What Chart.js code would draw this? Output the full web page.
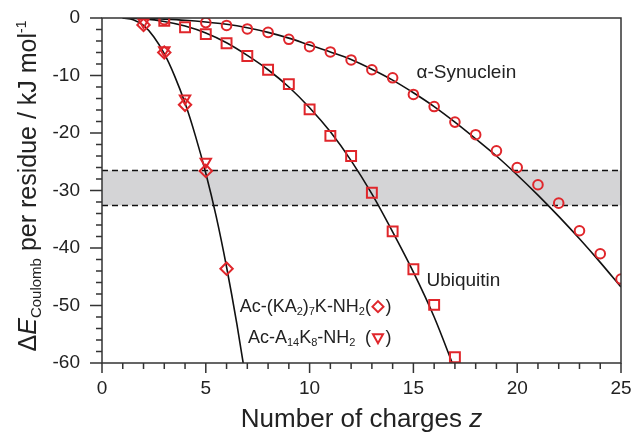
<!DOCTYPE html>
<html>
<head>
<meta charset="utf-8">
<script src="https://cdn.jsdelivr.net/npm/chart.js@4/dist/chart.umd.min.js"></script>
<style>
  body { margin: 0; background: #fff; }
  #wrap { width: 631px; height: 433px; }
</style>
</head>
<body>
<div id="wrap"><canvas id="coulomb"></canvas></div>
<script>
// tick values
var xTickValues = [0, 5, 10, 15, 20, 25];
var yTickValues = [0, -10, -20, -30, -40, -50, -60];

// alpha-synuclein (circles)
var synZ = [3, 5, 6, 7, 8, 9, 10, 11, 12, 13, 14, 15, 16, 17, 18, 19, 20, 21, 22, 23, 24, 25];
var synE = [-0.3, -0.8, -1.3, -1.9, -2.5, -3.7, -5.0, -5.9, -7.3, -9.0, -10.4, -13.3, -15.4, -18.1, -20.3, -23.1, -26.0, -29.0, -32.2, -37.0, -41.0, -45.4];

// ubiquitin (squares)
var ubiZ = [3, 4, 5, 6, 7, 8, 9, 10, 11, 12, 13, 14, 15, 16, 17];
var ubiE = [-0.5, -1.6, -2.8, -4.4, -6.6, -9.0, -11.5, -15.9, -20.5, -24.0, -30.4, -37.1, -43.7, -49.9, -59.0];

// Ac-(KA2)7K-NH2 (diamonds) and Ac-A14K8-NH2 (triangles)
var kaZ = [2, 3, 4, 5, 6];
var kaE = [-1.2, -6.0, -15.1, -26.6, -43.6];
var a14Z = [2, 3, 4, 5];
var a14E = [-0.7, -5.6, -14.0, -25.0];

// model curves
var synLineZ = [1, 2, 3, 4, 5, 6, 7, 8, 9, 10, 11, 12, 13, 14, 15, 16, 17, 18, 19, 20, 21, 22, 23, 24, 25];
var synLineE = [0, -0.05, -0.2, -0.4, -0.7, -1.1, -1.7, -2.5, -3.5, -4.7, -5.9, -7.2, -8.9, -10.8, -13.0, -15.4, -18.1, -21.0, -24.0, -27.3, -30.8, -34.5, -38.4, -42.5, -46.8];
var ubiLineZ = [1, 2, 3, 4, 5, 6, 7, 8, 9, 10, 11, 12, 13, 14, 15, 16, 17];
var ubiLineE = [0, -0.15, -0.6, -1.4, -2.6, -4.3, -6.5, -9.0, -12.0, -15.6, -19.8, -24.8, -30.6, -37.2, -44.2, -52.0, -61.2];
var kaLineZ = [1, 1.5, 2, 2.5, 3, 3.5, 4, 4.5, 5, 5.5, 6, 6.5, 7];
var kaLineE = [0, -0.3, -1.3, -3.3, -6.2, -10.1, -14.8, -20.5, -27.0, -34.5, -43.3, -53.3, -64.5];

// grey band limits
var bandTop = -26.5;
var bandBottom = -32.6;

var RED = "#e0262b";
var INK = "#222";
var FONT = "'Liberation Sans', Arial, sans-serif";

function pts(xs, ys) {
    return xs.map(function (x, i) { return { x: x, y: ys[i] }; });
}

function lineSet(xs, ys) {
    return {
        data: pts(xs, ys),
        showLine: true,
        borderColor: "#111",
        borderWidth: 1.6,
        pointRadius: 0,
        cubicInterpolationMode: "monotone",
        clip: 0,
        order: 5
    };
}

function markerSet(xs, ys, style, r, rot) {
    return {
        data: pts(xs, ys),
        showLine: false,
        pointStyle: style,
        pointRadius: r,
        pointRotation: rot || 0,
        pointBorderColor: RED,
        pointBackgroundColor: "rgba(0,0,0,0)",
        pointBorderWidth: 2,
        clip: 0,
        order: 1
    };
}

// draws grey band, frame, tick marks, titles and in-plot labels
var decor = {
    id: "decor",
    beforeDatasetsDraw: function (chart) {
        var ctx = chart.ctx, a = chart.chartArea, ys = chart.scales.y;
        var y1 = ys.getPixelForValue(bandTop), y2 = ys.getPixelForValue(bandBottom);
        ctx.save();
        ctx.fillStyle = "#d4d4d6";
        ctx.fillRect(a.left, y1, a.right - a.left, y2 - y1);
        ctx.strokeStyle = "#111";
        ctx.lineWidth = 1.5;
        ctx.setLineDash([6, 4]);
        ctx.beginPath();
        ctx.moveTo(a.left, y1); ctx.lineTo(a.right, y1);
        ctx.moveTo(a.left, y2); ctx.lineTo(a.right, y2);
        ctx.stroke();
        ctx.restore();
    },
    afterDraw: function (chart) {
        var ctx = chart.ctx, a = chart.chartArea;
        var xs = chart.scales.x, ys = chart.scales.y;
        ctx.save();
        ctx.strokeStyle = "#333";
        ctx.lineWidth = 1.5;
        ctx.strokeRect(a.left, a.top, a.right - a.left, a.bottom - a.top);

        // tick marks
        ctx.beginPath();
        var v, p, len;
        for (v = 0; v <= 25; v++) {
            p = xs.getPixelForValue(v);
            len = v % 5 === 0 ? 10 : 6;
            ctx.moveTo(p, a.bottom); ctx.lineTo(p, a.bottom + len);
        }
        for (v = 0; v >= -60; v -= 2) {
            p = ys.getPixelForValue(v);
            len = v % 10 === 0 ? 12 : 6;
            ctx.moveTo(a.left, p); ctx.lineTo(a.left - len, p);
        }
        ctx.stroke();

        ctx.fillStyle = INK;
        ctx.textBaseline = "alphabetic";
        ctx.textAlign = "left";

        // x title
        var t1 = "Number of charges ";
        ctx.font = "italic 26px " + FONT;
        var wz = ctx.measureText("z").width;
        ctx.font = "26px " + FONT;
        var w1 = ctx.measureText(t1).width;
        var sx = (a.left + a.right) / 2 - (w1 + wz) / 2;
        ctx.fillText(t1, sx, 427);
        ctx.font = "italic 26px " + FONT;
        ctx.fillText("z", sx + w1, 427);

        // y title, rotated
        var segs = [
            { t: "\u0394", f: "25px " + FONT, dy: 0 },
            { t: "E", f: "italic 25px " + FONT, dy: 0 },
            { t: "Coulomb", f: "15px " + FONT, dy: 5 },
            { t: " per residue / kJ mol", f: "25px " + FONT, dy: 0 },
            { t: "-1", f: "14px " + FONT, dy: -10 }
        ];
        var total = 0;
        segs.forEach(function (s) { ctx.font = s.f; s.w = ctx.measureText(s.t).width; total += s.w; });
        ctx.translate(36, 186);
        ctx.rotate(-Math.PI / 2);
        var px = -total / 2;
        segs.forEach(function (s) {
            ctx.font = s.f;
            ctx.fillText(s.t, px, s.dy);
            px += s.w;
        });
        ctx.setTransform(1, 0, 0, 1, 0, 0);

        // in-plot labels
        ctx.font = "19px " + FONT;
        ctx.textBaseline = "middle";
        ctx.fillText("\u03b1-Synuclein", xs.getPixelForValue(15.15), ys.getPixelForValue(-9.6));
        ctx.fillText("Ubiquitin", xs.getPixelForValue(15.63), ys.getPixelForValue(-45.7));

        function rich(parts, x, y) {
            parts.forEach(function (s) {
                ctx.font = (s.sub ? "11px " : "18px ") + FONT;
                ctx.fillText(s.t, x, y + (s.sub ? 5 : 0));
                x += ctx.measureText(s.t).width;
            });
            return x;
        }
        var ky = ys.getPixelForValue(-50.2);
        var kx = rich([{ t: "Ac-(KA" }, { t: "2", sub: 1 }, { t: ")" }, { t: "7", sub: 1 },
                       { t: "K-NH" }, { t: "2", sub: 1 }], xs.getPixelForValue(6.63), ky);
        ctx.font = "18px " + FONT;
        var wp = ctx.measureText("(").width;
        ctx.fillText("(", kx, ky);
        var mx = kx + wp + 7;
        ctx.fillText(")", mx + 7.5, ky);

        var ay = ys.getPixelForValue(-55.7);
        rich([{ t: "Ac-A" }, { t: "14", sub: 1 }, { t: "K" }, { t: "8", sub: 1 },
              { t: "-NH" }, { t: "2", sub: 1 }], xs.getPixelForValue(7.03), ay);
        ctx.font = "18px " + FONT;
        ctx.fillText("(", kx, ay);
        ctx.fillText(")", mx + 7.5, ay);

        ctx.strokeStyle = RED;
        ctx.lineWidth = 2;
        ctx.beginPath();
        ctx.moveTo(mx, ky - 5.5); ctx.lineTo(mx + 5.5, ky); ctx.lineTo(mx, ky + 5.5); ctx.lineTo(mx - 5.5, ky); ctx.closePath();
        ctx.moveTo(mx - 5, ay - 4); ctx.lineTo(mx + 5, ay - 4); ctx.lineTo(mx, ay + 5); ctx.closePath();
        ctx.stroke();
        ctx.restore();
    }
};

document.addEventListener("DOMContentLoaded", function () {
    var ctx = document.getElementById("coulomb").getContext("2d");

    var data = {
        datasets: [
            lineSet(synLineZ, synLineE),
            lineSet(ubiLineZ, ubiLineE),
            lineSet(kaLineZ, kaLineE),
            markerSet(synZ, synE, "circle", 4.8),
            markerSet(ubiZ, ubiE, "rect", 7),
            markerSet(kaZ, kaE, "rectRot", 6.2),
            markerSet(a14Z, a14E, "triangle", 6, 180)
        ]
    };

    var options = {
        responsive: false,
        animation: false,
        layout: { padding: { top: 18, right: 10, left: 0, bottom: 0 } },
        scales: {
            x: {
                type: "linear",
                min: 0,
                max: 25,
                afterBuildTicks: function (s) { s.ticks = xTickValues.map(function (v) { return { value: v }; }); },
                afterFit: function (s) { s.height = 70; s.paddingLeft = 0; s.paddingRight = 0; },
                grid: { display: false, drawTicks: false },
                border: { display: false },
                ticks: { padding: 14, color: INK, font: { family: FONT, size: 19 } }
            },
            y: {
                type: "linear",
                min: -60,
                max: 0,
                afterBuildTicks: function (s) { s.ticks = yTickValues.map(function (v) { return { value: v }; }); },
                afterFit: function (s) { s.width = 102; s.paddingTop = 0; s.paddingBottom = 0; },
                grid: { display: false, drawTicks: false },
                border: { display: false },
                ticks: { padding: 22, color: INK, font: { family: FONT, size: 19 } }
            }
        },
        plugins: {
            legend: { display: false },
            tooltip: { enabled: false }
        }
    };

    var canvas = document.getElementById("coulomb");
    canvas.width = 631;
    canvas.height = 433;

    new Chart(ctx, {
        type: "scatter",
        data: data,
        options: options,
        plugins: [decor]
    });
});
</script>
</body>
</html>
